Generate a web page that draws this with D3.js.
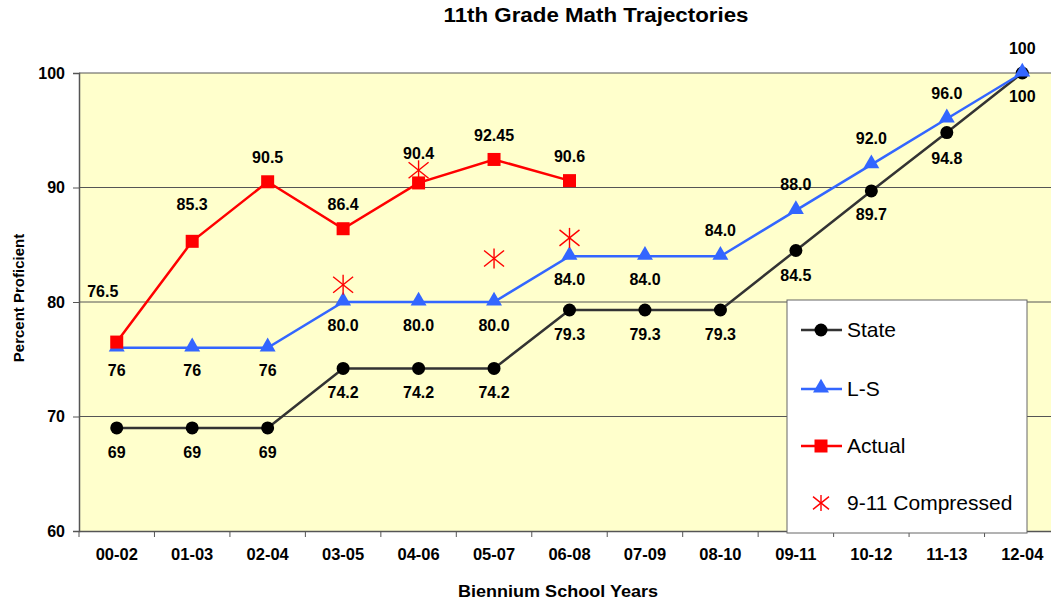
<!DOCTYPE html>
<html>
<head>
<meta charset="utf-8">
<script src="https://cdn.jsdelivr.net/npm/d3@7"></script>
<style>
  body { margin: 0; background: #fff; }
  text { font-family: "Liberation Sans", Arial, sans-serif; }
</style>
</head>
<body>
<div id="chart"></div>
<script>
var years = ["00-02", "01-03", "02-04", "03-05", "04-06", "05-07", "06-08", "07-09", "08-10", "09-11", "10-12", "11-13", "12-04"];
var state = [69, 69, 69, 74.2, 74.2, 74.2, 79.3, 79.3, 79.3, 84.5, 89.7, 94.8, 100];
var stateLabels = ["69", "69", "69", "74.2", "74.2", "74.2", "79.3", "79.3", "79.3", "84.5", "89.7", "94.8", "100"];
var ls = [76, 76, 76, 80, 80, 80, 84, 84, 84, 88, 92, 96, 100];
var lsLabels = ["76", "76", "76", "80.0", "80.0", "80.0", "84.0", "84.0", "84.0", "88.0", "92.0", "96.0", "100"];
var actual = [76.5, 85.3, 90.5, 86.4, 90.4, 92.45, 90.6];
var actualLabels = ["76.5", "85.3", "90.5", "86.4", "90.4", "92.45", "90.6"];
var compressedYears = ["03-05", "04-06", "05-07", "06-08"];
var compressed = [81.5, 91.5, 83.8, 85.6];
var yTicks = [60, 70, 80, 90, 100];

(function () {
var w = 1051, h = 603;
var pLeft = 79, pRight = 1060, pTop = 73, pBottom = 531;

var svg = d3.select("#chart").append("svg").attr("width", w).attr("height", h);

var xScale = d3.scaleBand().domain(years).range([pLeft, pRight]);
var yScale = d3.scaleLinear().domain([60, 100]).range([pBottom, pTop]);
function cx(d) { return xScale(d) + xScale.bandwidth() / 2; }

// plot background
svg.append("rect").attr("x", pLeft).attr("y", pTop)
    .attr("width", pRight - pLeft).attr("height", pBottom - pTop)
    .attr("fill", "#ffffcc");

// gridlines
svg.selectAll(".grid").data(yTicks.slice(1)).enter().append("line")
    .attr("x1", pLeft).attr("x2", pRight)
    .attr("y1", function (d) { return yScale(d); })
    .attr("y2", function (d) { return yScale(d); })
    .attr("stroke", "#555").attr("stroke-width", 1);

// y axis
var yAxis = d3.axisLeft(yScale).tickValues(yTicks).tickSize(6).tickPadding(8).tickFormat(d3.format("d"));
var yg = svg.append("g").attr("transform", "translate(" + pLeft + ",0)").call(yAxis);
yg.select(".domain").attr("stroke", "#555").attr("stroke-width", 1.5);
yg.selectAll(".tick line").attr("stroke", "#555");
yg.selectAll("text").attr("font-size", "16px").attr("font-weight", "bold").attr("fill", "#000")
    .attr("font-family", "Liberation Sans, Arial, sans-serif");

// x axis
var xAxis = d3.axisBottom(xScale).tickSize(0).tickPadding(17);
var xg = svg.append("g").attr("transform", "translate(0," + pBottom + ")").call(xAxis);
xg.select(".domain").attr("stroke", "#555").attr("stroke-width", 1.5);
xg.selectAll("text").attr("font-size", "16.5px").attr("font-weight", "bold").attr("fill", "#000")
    .attr("font-family", "Liberation Sans, Arial, sans-serif");
// ticks at category boundaries
xg.selectAll(".bound").data(years.concat(["end"])).enter().append("line")
    .attr("x1", function (d, i) { return pLeft + i * xScale.bandwidth(); })
    .attr("x2", function (d, i) { return pLeft + i * xScale.bandwidth(); })
    .attr("y1", 0).attr("y2", 6)
    .attr("stroke", "#555");

// titles
svg.append("text").attr("x", 596).attr("y", 22).attr("text-anchor", "middle")
    .attr("font-size", "20px").attr("font-weight", "bold")
    .attr("textLength", 305).attr("lengthAdjust", "spacingAndGlyphs")
    .text("11th Grade Math Trajectories");
svg.append("text").attr("x", 558).attr("y", 597).attr("text-anchor", "middle")
    .attr("font-size", "17px").attr("font-weight", "bold")
    .attr("textLength", 200).attr("lengthAdjust", "spacingAndGlyphs")
    .text("Biennium School Years");
svg.append("text").attr("transform", "translate(24,298) rotate(-90)").attr("text-anchor", "middle")
    .attr("font-size", "15px").attr("font-weight", "bold").text("Percent Proficient");

var line = d3.line().x(function (d) { return cx(d[0]); }).y(function (d) { return yScale(d[1]); });

function pairs(xs, vs) { return vs.map(function (v, i) { return [xs[i], v]; }); }

var stateData = pairs(years, state);
var lsData = pairs(years, ls);
var actualData = pairs(years, actual);
var compData = pairs(compressedYears, compressed);

// State
svg.append("path").datum(stateData).attr("d", line).attr("fill", "none")
    .attr("stroke", "#333").attr("stroke-width", 2.5);
svg.selectAll(".stateDot").data(stateData).enter().append("circle")
    .attr("cx", function (d) { return cx(d[0]); }).attr("cy", function (d) { return yScale(d[1]); })
    .attr("r", 6.5).attr("fill", "#000");

// L-S
var tri = d3.symbol().type(d3.symbolTriangle).size(110);
svg.append("path").datum(lsData).attr("d", line).attr("fill", "none")
    .attr("stroke", "#3366ff").attr("stroke-width", 2.5);
svg.selectAll(".lsDot").data(lsData).enter().append("path")
    .attr("d", tri)
    .attr("transform", function (d) { return "translate(" + cx(d[0]) + "," + (yScale(d[1]) - 1) + ")"; })
    .attr("fill", "#3366ff");

// Actual
svg.append("path").datum(actualData).attr("d", line).attr("fill", "none")
    .attr("stroke", "#ff0000").attr("stroke-width", 2.5);
svg.selectAll(".actDot").data(actualData).enter().append("rect")
    .attr("x", function (d) { return cx(d[0]) - 6.5; }).attr("y", function (d) { return yScale(d[1]) - 6.5; })
    .attr("width", 13).attr("height", 13).attr("fill", "#ff0000");

// 9-11 compressed asterisks (vertical bar + X)
function asterisk(g, s) {
    g.append("line").attr("x1", 0).attr("x2", 0).attr("y1", -s).attr("y2", s);
    g.append("line").attr("x1", -s).attr("x2", s).attr("y1", -s * 0.8).attr("y2", s * 0.8);
    g.append("line").attr("x1", -s).attr("x2", s).attr("y1", s * 0.8).attr("y2", -s * 0.8);
    g.attr("stroke", "#ff0000").attr("stroke-width", 1.4);
}
svg.selectAll(".comp").data(compData).enter().append("g")
    .attr("transform", function (d) { return "translate(" + cx(d[0]) + "," + yScale(d[1]) + ")"; })
    .each(function () { asterisk(d3.select(this), 10); });

// data labels (offsets from the marker)
var stateDy = [24, 24, 24, 24, 24, 24, 24, 24, 24, 25, 23, 25, 23];
var stateDx = [0, 0, 0, 0, 0, 0, 0, 0, 0, 0, 0, 0, 0];
var lsDy = [22, 22, 22, 23, 23, 23, 23, 23, -26, -26, -27, -26, -25];
var lsDx = [0, 0, 0, 0, 0, 0, 0, 0, 0, 0, 0, 0, 0];
var actDy = [-51, -37, -25, -25, -30, -24, -25];
var actDx = [-14, 0, 0, 0, 0, 0, 0];

function labels(data, txt, dx, dy) {
    svg.append("g").selectAll("text").data(data).enter().append("text")
        .attr("x", function (d, i) { return cx(d[0]) + dx[i]; })
        .attr("y", function (d, i) { return yScale(d[1]) + dy[i] + 6; })
        .attr("text-anchor", "middle").attr("font-size", "16px").attr("font-weight", "bold")
        .attr("fill", "#000")
        .text(function (d, i) { return txt[i]; });
}
labels(stateData, stateLabels, stateDx, stateDy);
labels(lsData, lsLabels, lsDx, lsDy);
labels(actualData, actualLabels, actDx, actDy);

// legend
var lg = svg.append("g");
lg.append("rect").attr("x", 787).attr("y", 300).attr("width", 240).attr("height", 233)
    .attr("fill", "#fff").attr("stroke", "#666").attr("stroke-width", 1);
var legendNames = ["State", "L-S", "Actual", "9-11 Compressed"];
var legendY = [330, 389, 446, 503];
legendNames.forEach(function (name, i) {
    var y = legendY[i];
    var item = lg.append("g");
    if (i === 0) {
        item.append("line").attr("x1", 801).attr("x2", 842).attr("y1", y).attr("y2", y).attr("stroke", "#333").attr("stroke-width", 2.5);
        item.append("circle").attr("cx", 821).attr("cy", y).attr("r", 6.5).attr("fill", "#000");
    } else if (i === 1) {
        item.append("line").attr("x1", 801).attr("x2", 842).attr("y1", y).attr("y2", y).attr("stroke", "#3366ff").attr("stroke-width", 2.5);
        item.append("path").attr("d", tri).attr("transform", "translate(821," + (y - 1) + ")").attr("fill", "#3366ff");
    } else if (i === 2) {
        item.append("line").attr("x1", 801).attr("x2", 842).attr("y1", y).attr("y2", y).attr("stroke", "#ff0000").attr("stroke-width", 2.5);
        item.append("rect").attr("x", 814.5).attr("y", y - 6.5).attr("width", 13).attr("height", 13).attr("fill", "#ff0000");
    } else {
        var a = item.append("g").attr("transform", "translate(821," + y + ")");
        asterisk(a, 8);
    }
    item.append("text").attr("x", 847).attr("y", y + 7).attr("font-size", "21px").attr("fill", "#000").text(name);
});
})();
</script>
</body>
</html>
